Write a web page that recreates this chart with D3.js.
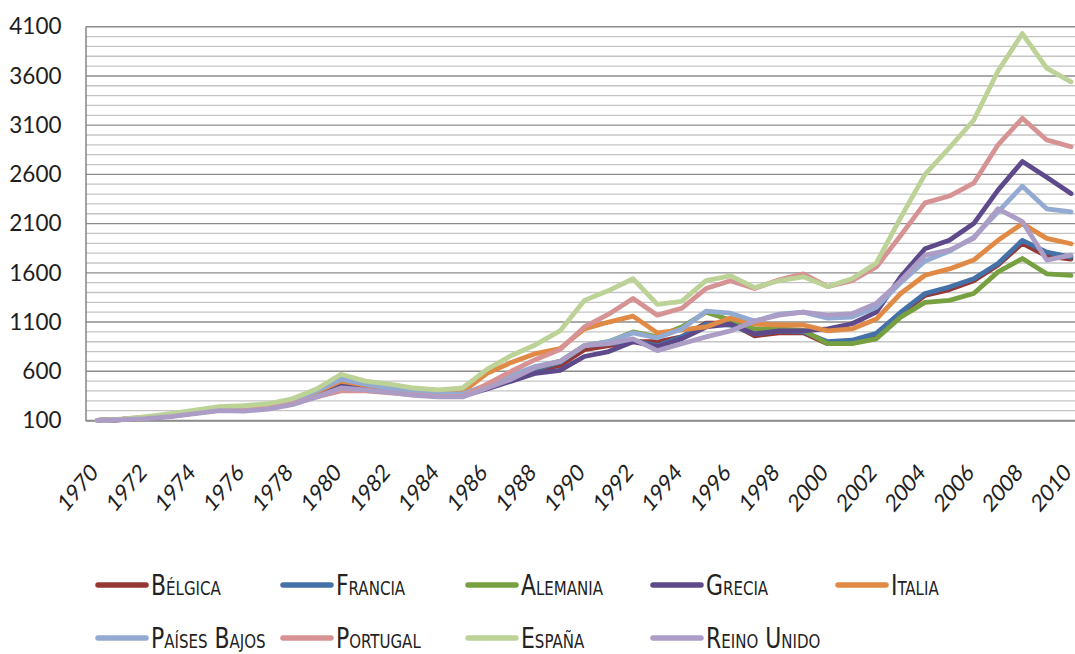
<!DOCTYPE html>
<html>
<head>
<meta charset="utf-8">
<script src="https://cdn.jsdelivr.net/npm/d3@7"></script>
<style>
  html, body { margin: 0; padding: 0; background: #fff; }
  svg { display: block; }
</style>
</head>
<body>
<svg id="chart" width="1075" height="654"></svg>
<script>
const years = d3.range(1970, 2011);
const yTickValues = [100, 600, 1100, 1600, 2100, 2600, 3100, 3600, 4100];
const xTickValues = d3.range(1970, 2011, 2);

const seriesNames = ["Bélgica", "Francia", "Alemania", "Grecia", "Italia", "Países Bajos", "Portugal", "España", "Reino Unido"];
const seriesColors = ["#953735", "#4472A8", "#77A140", "#5E4A8B", "#E08A45", "#93ABD2", "#D79394", "#BCD296", "#AC9DC6"];

const belgica = [100,110,125,148,178,208,212,232,285,385,480,440,405,375,355,355,430,
  510,610,660,820,860,900,900,950,1090,1090,960,990,990,880,890,960,1180,1370,1430,1520,1680,1900,1770,1740];
const francia = [100,110,128,150,180,210,215,235,290,390,500,450,410,380,360,360,440,
  520,620,690,860,880,910,860,950,1080,1070,980,1010,1000,900,915,985,1200,1390,1455,1540,1695,1930,1810,1760];
const alemania = [100,112,132,158,190,222,228,250,300,400,520,470,430,390,370,370,450,
  540,640,700,860,900,1000,950,1050,1200,1120,1030,1030,1015,880,880,930,1150,1300,1320,1390,1610,1745,1590,1575];
const grecia = [100,110,125,145,175,205,205,230,280,370,470,430,400,370,350,350,420,
  500,580,610,750,800,900,850,930,1050,1080,980,1010,1010,1030,1083,1200,1560,1845,1930,2100,2440,2730,2570,2405];
const italia = [100,115,135,160,195,230,235,255,300,390,500,460,430,400,380,390,580,
  690,780,830,1030,1100,1160,990,1020,1050,1140,1080,1070,1070,1010,1030,1130,1390,1575,1640,1730,1930,2100,1950,1895];
const paisesBajos = [100,112,130,155,185,215,225,245,300,400,520,470,430,390,370,370,460,
  560,650,700,860,900,990,940,1030,1210,1190,1110,1180,1200,1140,1150,1250,1500,1720,1820,1960,2220,2480,2250,2220];
const portugal = [100,110,125,150,180,210,215,230,270,340,400,400,380,360,345,345,470,
  600,720,820,1050,1180,1340,1170,1240,1440,1520,1440,1530,1590,1460,1520,1660,1980,2310,2380,2510,2900,3170,2950,2880];
const espana = [100,115,140,170,205,240,250,270,320,420,570,500,470,430,410,430,620,
  760,870,1010,1320,1420,1540,1280,1310,1520,1570,1450,1520,1560,1460,1540,1700,2160,2600,2870,3150,3650,4030,3680,3540];
const reinoUnido = [100,108,120,140,170,200,195,215,260,340,430,410,385,355,340,340,430,
  520,640,700,860,880,930,810,880,950,1010,1110,1170,1200,1170,1185,1290,1520,1780,1830,1950,2250,2120,1730,1780];

const seriesValues = [belgica, francia, alemania, grecia, italia, paisesBajos, portugal, espana, reinoUnido];

const svg = d3.select("#chart");
const FONT = "Lato, 'Open Sans', 'Liberation Sans', sans-serif";
const LEG_FONT = "'Liberation Sans Narrow', 'DejaVu Sans Condensed', 'Liberation Sans', sans-serif";

const plotLeft = 85.5, plotRight = 1083.2, plotTop = 26.7, plotBottom = 420.5;

const x = d3.scalePoint().domain(years).range([plotLeft, plotRight]).padding(0.5);
const y = d3.scaleLinear().domain([100, 4100]).range([plotBottom, plotTop]);

// gridlines
const gridVals = d3.range(100, 4101, 100);
svg.append("g").selectAll("line").data(gridVals).join("line")
  .attr("x1", plotLeft).attr("x2", 1075)
  .attr("y1", d => y(d)).attr("y2", d => y(d))
  .attr("stroke", d => ((d - 100) % 500 === 0) ? "#8c8c8c" : "#c4c4c4")
  .attr("stroke-width", d => ((d - 100) % 500 === 0) ? 1.4 : 1.3);

// y axis
const yAxis = svg.append("g").attr("transform", `translate(${plotLeft},0)`)
  .call(d3.axisLeft(y).tickValues(yTickValues).tickSize(0).tickPadding(24).tickFormat(d3.format("d")));
yAxis.select(".domain").attr("stroke", "#8c8c8c").attr("stroke-width", 1.6);
yAxis.selectAll("text").attr("font-family", FONT).attr("font-size", 22.5).attr("fill", "#1e1e1e");

// x axis
const xAxis = svg.append("g").attr("transform", `translate(0,${plotBottom})`)
  .call(d3.axisBottom(x).tickValues(xTickValues).tickSize(0).tickFormat(d3.format("d")));
xAxis.select(".domain").attr("stroke", "#8c8c8c").attr("stroke-width", 1.6);
xAxis.selectAll("text")
  .attr("font-family", FONT).attr("font-size", 20).attr("fill", "#1e1e1e")
  .attr("text-anchor", "end").attr("dy", 0).attr("y", 0)
  .attr("transform", "translate(1,53.5) scale(1,1.2) rotate(-45)");

// lines
const line = d3.line().x((d, i) => x(years[i])).y(d => y(d));
svg.append("g").selectAll("path").data(seriesValues).join("path")
  .attr("d", d => line(d))
  .attr("fill", "none")
  .attr("stroke", (d, i) => seriesColors[i])
  .attr("stroke-width", 4.8)
  .attr("stroke-linejoin", "round")
  .attr("stroke-linecap", "round");

// legend
const legend = svg.append("g");
const rows = [[0,1,2,3,4],[5,6,7,8]];
const rowY = [585, 638];
const squeeze = 0.87;
rows.forEach((row, r) => {
  let prevEnd = 0;
  row.forEach((si, c) => {
    const sx = Math.max(96 + 185 * c, prevEnd + 3);
    const g = legend.append("g").attr("transform", `translate(${sx},${rowY[r]})`);
    g.append("line").attr("x1", 2).attr("x2", 50).attr("y1", 0).attr("y2", 0)
      .attr("stroke", seriesColors[si]).attr("stroke-width", 5.5).attr("stroke-linecap", "round");
    const t = g.append("text")
      .attr("transform", `translate(55,9.5) scale(${squeeze},1)`)
      .attr("font-family", LEG_FONT).attr("font-size", 28)
      .style("font-variant", "small-caps")
      .attr("fill", "#222").text(seriesNames[si]);
    prevEnd = sx + 55 + t.node().getComputedTextLength() * squeeze;
  });
});
</script>
</body>
</html>
